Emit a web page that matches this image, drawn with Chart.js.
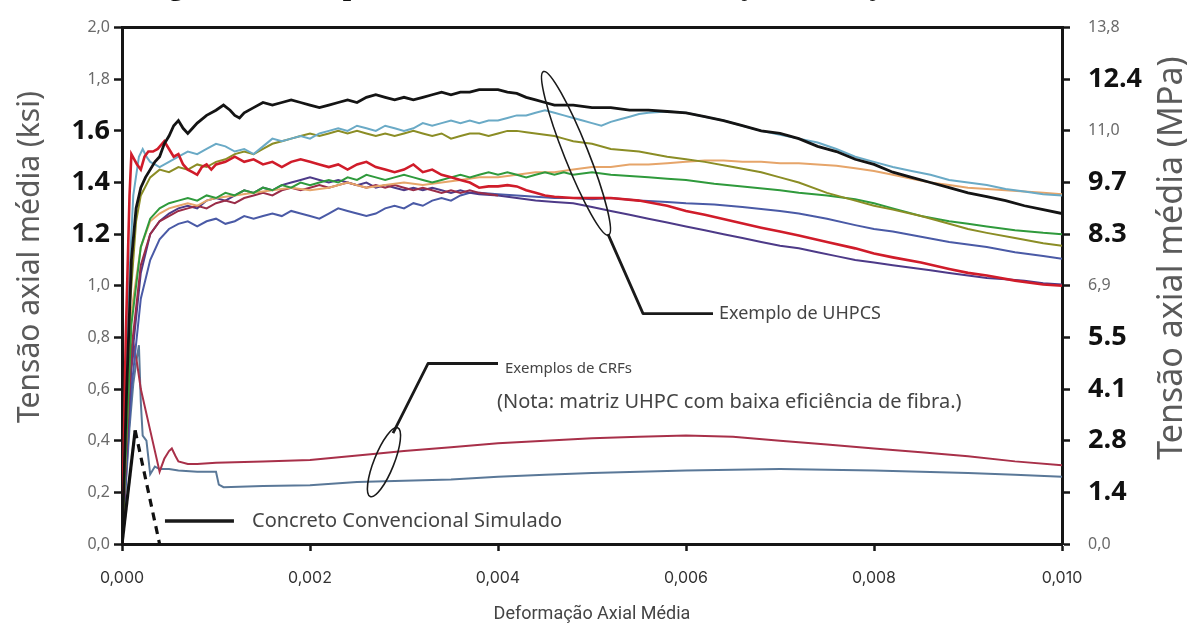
<!DOCTYPE html>
<html>
<head>
<meta charset="utf-8">
<script src="https://cdn.jsdelivr.net/npm/chart.js@4.4.1/dist/chart.umd.min.js"></script>
<style>
  html, body { margin: 0; padding: 0; background: #ffffff; }
  #wrap { width: 1187px; height: 626px; position: relative; }
  canvas { display: block; }
</style>
</head>
<body>
<div id="wrap"><canvas id="chart" width="1187" height="626"></canvas></div>
<script>
// ---- tick labels ----
const strainTickLabels = ['0,000', '0,002', '0,004', '0,006', '0,008', '0,010'];
const ksiTickLabels = ['0,0', '0,2', '0,4', '0,6', '0,8', '1,0', '1.2', '1.4', '1.6', '1,8', '2,0'];
const mpaTickLabels = ['0,0', '1.4', '2.8', '4.1', '5.5', '6,9', '8.3', '9.7', '11,0', '12.4', '13,8'];
// labels printed in bold (the others are light grey)
const ksiBold = ['1.2', '1.4', '1.6'];
const mpaBold = ['1.4', '2.8', '4.1', '5.5', '8.3', '9.7', '12.4'];

// ---- UHPC curves: [strain, stress (ksi)] ----
const uhpcBlack = [[0,0],[0.00005,0.6],[0.0001,1.1],[0.00015,1.30],[0.0002,1.38],[0.00025,1.42],[0.0003,1.45],[0.00035,1.48],[0.0004,1.50],[0.00045,1.55],[0.0005,1.58],[0.00055,1.62],[0.0006,1.64],[0.00065,1.61],[0.0007,1.59],[0.00075,1.61],[0.0008,1.63],[0.0009,1.66],[0.001,1.68],[0.00108,1.70],[0.00115,1.68],[0.0012,1.66],[0.00125,1.65],[0.0013,1.67],[0.0014,1.69],[0.0015,1.71],[0.0016,1.70],[0.0017,1.71],[0.0018,1.72],[0.0019,1.71],[0.002,1.70],[0.0021,1.69],[0.0022,1.70],[0.0023,1.71],[0.0024,1.72],[0.0025,1.71],[0.0026,1.73],[0.0027,1.74],[0.0028,1.73],[0.0029,1.72],[0.003,1.73],[0.0031,1.72],[0.0032,1.73],[0.0033,1.74],[0.0034,1.75],[0.0035,1.74],[0.0036,1.75],[0.0037,1.75],[0.0038,1.76],[0.0039,1.76],[0.004,1.76],[0.0041,1.75],[0.0042,1.745],[0.0043,1.73],[0.0044,1.72],[0.0045,1.71],[0.0046,1.70],[0.0048,1.70],[0.005,1.69],[0.0052,1.69],[0.0054,1.68],[0.0056,1.68],[0.0058,1.675],[0.006,1.67],[0.0062,1.655],[0.0064,1.64],[0.0066,1.62],[0.0068,1.60],[0.007,1.59],[0.0072,1.57],[0.0074,1.54],[0.0076,1.52],[0.0078,1.49],[0.008,1.47],[0.0082,1.44],[0.0084,1.42],[0.0086,1.40],[0.0088,1.38],[0.009,1.36],[0.0092,1.345],[0.0094,1.33],[0.0096,1.31],[0.0098,1.295],[0.01,1.28]];
const uhpcCyan = [[0,0],[0.00006,0.9],[0.00012,1.35],[0.00018,1.50],[0.00022,1.53],[0.00026,1.50],[0.0003,1.48],[0.00035,1.47],[0.0004,1.46],[0.0005,1.48],[0.0006,1.50],[0.0007,1.52],[0.0008,1.51],[0.0009,1.53],[0.001,1.55],[0.0011,1.54],[0.0012,1.52],[0.0013,1.53],[0.0014,1.51],[0.0015,1.54],[0.0016,1.57],[0.0017,1.56],[0.0018,1.57],[0.0019,1.58],[0.002,1.57],[0.0021,1.59],[0.0022,1.60],[0.0023,1.61],[0.0024,1.60],[0.0025,1.62],[0.0026,1.61],[0.0027,1.60],[0.0028,1.62],[0.0029,1.61],[0.003,1.60],[0.0031,1.61],[0.0032,1.63],[0.0033,1.62],[0.0034,1.63],[0.0035,1.64],[0.0036,1.63],[0.0037,1.64],[0.0038,1.63],[0.0039,1.64],[0.004,1.64],[0.0041,1.65],[0.0042,1.66],[0.0043,1.66],[0.0044,1.67],[0.0045,1.68],[0.0046,1.67],[0.0047,1.66],[0.0048,1.65],[0.0049,1.64],[0.005,1.63],[0.0051,1.62],[0.0052,1.635],[0.0053,1.645],[0.0054,1.655],[0.0055,1.665],[0.0056,1.67],[0.0058,1.675],[0.006,1.67],[0.0062,1.655],[0.0064,1.64],[0.0066,1.62],[0.0068,1.60],[0.007,1.585],[0.0072,1.57],[0.0074,1.555],[0.0076,1.53],[0.0078,1.50],[0.008,1.48],[0.0082,1.46],[0.0084,1.445],[0.0086,1.43],[0.0088,1.41],[0.009,1.40],[0.0092,1.39],[0.0094,1.375],[0.0096,1.365],[0.0098,1.355],[0.01,1.35]];
const uhpcOlive = [[0,0],[0.00008,0.9],[0.00015,1.25],[0.0002,1.35],[0.0003,1.42],[0.0004,1.45],[0.0005,1.44],[0.0006,1.46],[0.0007,1.45],[0.0008,1.47],[0.0009,1.46],[0.001,1.48],[0.0011,1.49],[0.0012,1.51],[0.0013,1.52],[0.0014,1.51],[0.0015,1.53],[0.0016,1.55],[0.0017,1.56],[0.0018,1.57],[0.0019,1.58],[0.002,1.59],[0.0021,1.58],[0.0022,1.59],[0.0023,1.60],[0.0024,1.59],[0.0025,1.60],[0.0026,1.59],[0.0027,1.58],[0.0028,1.59],[0.0029,1.58],[0.003,1.59],[0.0031,1.60],[0.0032,1.59],[0.0033,1.58],[0.0034,1.59],[0.0035,1.57],[0.0036,1.58],[0.0037,1.59],[0.0038,1.59],[0.0039,1.58],[0.004,1.59],[0.0041,1.60],[0.0042,1.60],[0.0043,1.595],[0.0044,1.59],[0.0045,1.585],[0.0046,1.58],[0.0047,1.57],[0.0048,1.56],[0.005,1.55],[0.0052,1.53],[0.0055,1.52],[0.0058,1.50],[0.006,1.49],[0.0062,1.48],[0.0065,1.46],[0.0068,1.44],[0.007,1.42],[0.0072,1.40],[0.0075,1.36],[0.0078,1.33],[0.008,1.31],[0.0082,1.295],[0.0085,1.27],[0.0088,1.24],[0.009,1.22],[0.0092,1.205],[0.0095,1.185],[0.0098,1.165],[0.01,1.155]];
const uhpcOrange = [[0,0],[0.0001,0.9],[0.0002,1.15],[0.0003,1.25],[0.0004,1.28],[0.0005,1.30],[0.0006,1.31],[0.0007,1.32],[0.0008,1.31],[0.0009,1.33],[0.001,1.34],[0.0012,1.35],[0.0014,1.36],[0.0016,1.37],[0.0018,1.38],[0.002,1.37],[0.0022,1.38],[0.0024,1.40],[0.0026,1.38],[0.0028,1.39],[0.003,1.40],[0.0032,1.39],[0.0034,1.40],[0.0036,1.41],[0.0038,1.42],[0.004,1.42],[0.0042,1.43],[0.0044,1.44],[0.0046,1.44],[0.0048,1.45],[0.005,1.46],[0.0052,1.46],[0.0054,1.47],[0.0056,1.47],[0.0058,1.475],[0.006,1.48],[0.0062,1.485],[0.0064,1.485],[0.0066,1.48],[0.0068,1.48],[0.007,1.475],[0.0072,1.475],[0.0074,1.47],[0.0076,1.465],[0.0078,1.455],[0.008,1.445],[0.0082,1.43],[0.0084,1.415],[0.0086,1.40],[0.0088,1.39],[0.009,1.38],[0.0092,1.375],[0.0094,1.37],[0.0096,1.365],[0.0098,1.36],[0.01,1.355]];
const uhpcGreen = [[0,0],[0.0001,0.85],[0.0002,1.15],[0.0003,1.26],[0.0004,1.30],[0.0005,1.32],[0.0006,1.33],[0.0007,1.34],[0.0008,1.33],[0.0009,1.35],[0.001,1.34],[0.0011,1.36],[0.0012,1.35],[0.0013,1.37],[0.0014,1.36],[0.0015,1.38],[0.0016,1.37],[0.0017,1.39],[0.0018,1.38],[0.0019,1.40],[0.002,1.39],[0.0021,1.40],[0.0022,1.41],[0.0023,1.40],[0.0024,1.42],[0.0025,1.41],[0.0026,1.43],[0.0027,1.42],[0.0028,1.41],[0.0029,1.42],[0.003,1.43],[0.0031,1.42],[0.0032,1.41],[0.0033,1.40],[0.0034,1.41],[0.0035,1.42],[0.0036,1.43],[0.0037,1.42],[0.0038,1.43],[0.0039,1.44],[0.004,1.43],[0.0041,1.44],[0.0042,1.43],[0.0043,1.42],[0.0044,1.43],[0.0045,1.44],[0.0046,1.43],[0.0047,1.44],[0.0048,1.43],[0.005,1.44],[0.0052,1.43],[0.0054,1.425],[0.0056,1.42],[0.0058,1.415],[0.006,1.41],[0.0063,1.395],[0.0066,1.385],[0.007,1.37],[0.0072,1.36],[0.0075,1.35],[0.0078,1.335],[0.008,1.32],[0.0082,1.30],[0.0085,1.27],[0.0088,1.25],[0.009,1.24],[0.0092,1.23],[0.0095,1.215],[0.0098,1.205],[0.01,1.20]];
const uhpcRed = [[0,0],[0.00004,0.8],[0.00008,1.35],[0.0001,1.51],[0.00013,1.49],[0.00016,1.47],[0.0002,1.45],[0.00024,1.50],[0.00028,1.52],[0.00033,1.52],[0.00038,1.53],[0.00045,1.56],[0.0005,1.53],[0.00055,1.50],[0.0006,1.51],[0.00065,1.47],[0.0007,1.45],[0.00075,1.44],[0.0008,1.43],[0.00085,1.46],[0.0009,1.47],[0.00095,1.45],[0.001,1.47],[0.0011,1.48],[0.0012,1.50],[0.0013,1.48],[0.0014,1.49],[0.0015,1.47],[0.0016,1.48],[0.0017,1.46],[0.0018,1.48],[0.0019,1.49],[0.002,1.48],[0.0021,1.47],[0.0022,1.46],[0.0023,1.47],[0.0024,1.45],[0.0025,1.47],[0.0026,1.48],[0.0027,1.46],[0.0028,1.45],[0.0029,1.44],[0.003,1.45],[0.0031,1.47],[0.0032,1.44],[0.0033,1.45],[0.0034,1.43],[0.0035,1.42],[0.0036,1.41],[0.0037,1.40],[0.0038,1.38],[0.0039,1.385],[0.004,1.385],[0.0041,1.39],[0.0042,1.385],[0.0043,1.37],[0.0044,1.36],[0.0045,1.35],[0.0046,1.345],[0.0048,1.34],[0.005,1.34],[0.0052,1.34],[0.0055,1.33],[0.0058,1.31],[0.006,1.29],[0.0062,1.275],[0.0065,1.25],[0.0068,1.225],[0.007,1.21],[0.0072,1.195],[0.0075,1.17],[0.0078,1.145],[0.008,1.125],[0.0082,1.11],[0.0085,1.09],[0.0088,1.065],[0.009,1.05],[0.0092,1.04],[0.0095,1.02],[0.0098,1.005],[0.01,1.00]];
const uhpcMaroon = [[0,0],[0.0001,0.75],[0.0002,1.08],[0.0003,1.20],[0.0004,1.25],[0.0005,1.27],[0.0006,1.29],[0.0007,1.30],[0.0008,1.31],[0.0009,1.30],[0.001,1.32],[0.0011,1.33],[0.0012,1.32],[0.0013,1.34],[0.0014,1.35],[0.0015,1.36],[0.0016,1.35],[0.0017,1.37],[0.0018,1.38],[0.0019,1.37],[0.002,1.38],[0.0021,1.39],[0.0022,1.38],[0.0023,1.39],[0.0024,1.40],[0.0025,1.39],[0.0026,1.38],[0.0027,1.39],[0.0028,1.38],[0.0029,1.39],[0.003,1.38],[0.0031,1.37],[0.0032,1.38],[0.0033,1.37],[0.0034,1.36],[0.0035,1.37],[0.0036,1.36],[0.0037,1.37],[0.0038,1.36],[0.004,1.35]];
const uhpcPurple = [[0,0],[0.0001,0.7],[0.0002,1.05],[0.0003,1.20],[0.0004,1.25],[0.0005,1.28],[0.0006,1.30],[0.0007,1.31],[0.0008,1.30],[0.0009,1.33],[0.001,1.34],[0.0011,1.33],[0.0012,1.35],[0.0013,1.37],[0.0014,1.36],[0.0015,1.38],[0.0016,1.37],[0.0017,1.39],[0.0018,1.40],[0.0019,1.41],[0.002,1.42],[0.0021,1.41],[0.0022,1.40],[0.0023,1.41],[0.0024,1.40],[0.0025,1.39],[0.0026,1.40],[0.0027,1.38],[0.0028,1.39],[0.0029,1.38],[0.003,1.37],[0.0031,1.38],[0.0032,1.37],[0.0033,1.38],[0.0034,1.37],[0.0035,1.36],[0.0036,1.37],[0.0037,1.36],[0.0038,1.355],[0.004,1.35],[0.0042,1.34],[0.0044,1.33],[0.0046,1.325],[0.0048,1.32],[0.005,1.305],[0.0052,1.29],[0.0054,1.275],[0.0056,1.26],[0.0058,1.245],[0.006,1.23],[0.0062,1.215],[0.0064,1.20],[0.0066,1.185],[0.0068,1.17],[0.007,1.155],[0.0072,1.145],[0.0074,1.13],[0.0076,1.115],[0.0078,1.10],[0.008,1.09],[0.0082,1.08],[0.0084,1.07],[0.0086,1.06],[0.0088,1.05],[0.009,1.04],[0.0092,1.03],[0.0094,1.025],[0.0096,1.02],[0.0098,1.01],[0.01,1.005]];
const uhpcBlue = [[0,0],[0.0001,0.6],[0.0002,0.95],[0.0003,1.10],[0.0004,1.18],[0.0005,1.22],[0.0006,1.24],[0.0007,1.25],[0.0008,1.23],[0.0009,1.25],[0.001,1.26],[0.0011,1.24],[0.0012,1.25],[0.0013,1.27],[0.0014,1.26],[0.0015,1.27],[0.0016,1.28],[0.0017,1.27],[0.0018,1.29],[0.0019,1.28],[0.002,1.27],[0.0021,1.26],[0.0022,1.28],[0.0023,1.30],[0.0024,1.29],[0.0025,1.28],[0.0026,1.27],[0.0027,1.28],[0.0028,1.30],[0.0029,1.31],[0.003,1.30],[0.0031,1.32],[0.0032,1.31],[0.0033,1.33],[0.0034,1.34],[0.0035,1.33],[0.0036,1.35],[0.0037,1.36],[0.0038,1.36],[0.004,1.355],[0.0042,1.35],[0.0044,1.345],[0.0046,1.34],[0.0048,1.34],[0.005,1.335],[0.0052,1.34],[0.0055,1.33],[0.0058,1.325],[0.006,1.32],[0.0063,1.315],[0.0066,1.305],[0.007,1.29],[0.0072,1.28],[0.0075,1.26],[0.0078,1.235],[0.008,1.22],[0.0082,1.21],[0.0085,1.19],[0.0088,1.17],[0.009,1.16],[0.0092,1.15],[0.0095,1.13],[0.0098,1.115],[0.01,1.105]];

// ---- fibre-reinforced concrete (CRF) curves ----
const crfRed = [[0,0],[0.00005,0.40],[0.0001,0.68],[0.00013,0.76],[0.00016,0.70],[0.0002,0.60],[0.0003,0.44],[0.0004,0.28],[0.00045,0.33],[0.0005,0.36],[0.00053,0.37],[0.00057,0.34],[0.0006,0.32],[0.0007,0.31],[0.0008,0.31],[0.001,0.315],[0.0015,0.32],[0.002,0.325],[0.0027,0.35],[0.003,0.36],[0.0035,0.375],[0.004,0.39],[0.0045,0.40],[0.005,0.41],[0.0055,0.415],[0.006,0.42],[0.0065,0.415],[0.007,0.40],[0.0075,0.385],[0.008,0.37],[0.0085,0.355],[0.009,0.34],[0.0095,0.32],[0.01,0.305]];
const crfBlue = [[0,0],[0.00008,0.45],[0.00012,0.62],[0.00015,0.70],[0.00018,0.77],[0.0002,0.55],[0.00022,0.42],[0.00026,0.40],[0.0003,0.27],[0.00035,0.30],[0.0004,0.29],[0.0005,0.29],[0.0006,0.285],[0.0008,0.28],[0.001,0.28],[0.00103,0.23],[0.00108,0.22],[0.0015,0.225],[0.002,0.228],[0.0025,0.24],[0.003,0.245],[0.0035,0.25],[0.004,0.26],[0.0045,0.268],[0.005,0.275],[0.0055,0.28],[0.006,0.285],[0.0065,0.288],[0.007,0.29],[0.0075,0.288],[0.008,0.285],[0.0085,0.28],[0.009,0.275],[0.0095,0.268],[0.01,0.26]];

// ---- simulated plain concrete ----
const plainRise = [[0,0],[0.00014,0.44]];
const plainSoftening = [[0.00014,0.44],[0.0004,0]];

// ---- callout anchors (strain, ksi) ----
const uhpcCallout = { ring: [0.00483, 1.513], leader: [[0.00517, 1.20], [0.005543, 0.892], [0.006287, 0.892]], text: [0.006351, 0.892] };
const crfCallout = { ring: [0.002787, 0.317], leader: [[0.002883, 0.429], [0.003255, 0.699], [0.0040, 0.699]], text: [0.004074, 0.678], note: [0.003989, 0.548] };
const plainKey = { line: [[0.000457, 0.089], [0.001191, 0.089]], text: [0.001383, 0.089] };

const line = (data, color, width, dash) => ({
  data, borderColor: color, borderWidth: width, borderDash: dash || [],
  pointRadius: 0, tension: 0, fill: false, xAxisID: 'x', yAxisID: 'y'
});

const datasets = [
  line(plainRise, '#111111', 3.2),
  line(plainSoftening, '#111111', 3.2, [8, 6]),
  line(uhpcBlack, '#141414', 2.8),
  line(uhpcRed, '#d01c2a', 2.6),
  line(uhpcCyan, '#6aaac6', 2),
  line(uhpcOlive, '#8b8d25', 2),
  line(uhpcGreen, '#2f9a3c', 2),
  line(uhpcOrange, '#e6a56a', 2),
  line(uhpcMaroon, '#9a2c48', 2),
  line(uhpcPurple, '#4d3a88', 2),
  line(uhpcBlue, '#4a5aa6', 2),
  line(crfRed, '#a83049', 2),
  line(crfBlue, '#5a7898', 2)
];

const AXIS = '#161616';
const sans = '"Noto Sans", "DejaVu Sans", sans-serif';

const decorations = {
  id: 'decorations',
  afterDraw(chart) {
    const ctx = chart.ctx;
    const sx = chart.scales.x, sy = chart.scales.y;
    const px = p => [sx.getPixelForValue(p[0]), sy.getPixelForValue(p[1])];
    ctx.save();

    // figure caption (only its descenders fall inside the page)
    ctx.fillStyle = '#111';
    ctx.font = 'bold 30px "Liberation Serif", serif';
    ctx.textBaseline = 'alphabetic';
    ctx.textAlign = 'left';
    ctx.fillText('Figura 2 – Comportamento de tensão-deformação na tração direta', 142, -5);

    // axis titles, both reading bottom-to-top
    ctx.fillStyle = '#5a5a5a';
    ctx.textAlign = 'center';
    ctx.textBaseline = 'middle';
    ctx.save();
    ctx.translate(30, 257);
    ctx.rotate(-Math.PI / 2);
    ctx.font = '30px ' + sans;
    ctx.fillText('Tensão axial média (ksi)', 0, 0);
    ctx.restore();
    ctx.save();
    ctx.translate(1172, 258);
    ctx.rotate(-Math.PI / 2);
    ctx.font = '34px ' + sans;
    ctx.fillText('Tensão axial média (MPa)', 0, 0);
    ctx.restore();

    // callout: UHPC examples
    ctx.strokeStyle = '#1a1a1a';
    ctx.lineJoin = 'round';
    let c = px(uhpcCallout.ring);
    ctx.lineWidth = 1.6;
    ctx.beginPath();
    ctx.ellipse(c[0], c[1], 12, 88, -0.379, 0, Math.PI * 2);
    ctx.stroke();
    ctx.lineWidth = 2.8;
    ctx.beginPath();
    uhpcCallout.leader.forEach((p, i) => { const q = px(p); i ? ctx.lineTo(q[0], q[1]) : ctx.moveTo(q[0], q[1]); });
    ctx.stroke();
    ctx.fillStyle = '#444';
    ctx.textAlign = 'left';
    ctx.font = '18px ' + sans;
    let t = px(uhpcCallout.text);
    ctx.fillText('Exemplo de UHPCS', t[0], t[1]);

    // callout: CRF examples
    c = px(crfCallout.ring);
    ctx.lineWidth = 1.6;
    ctx.beginPath();
    ctx.ellipse(c[0], c[1], 10, 37, 0.38, 0, Math.PI * 2);
    ctx.stroke();
    ctx.lineWidth = 2.8;
    ctx.beginPath();
    crfCallout.leader.forEach((p, i) => { const q = px(p); i ? ctx.lineTo(q[0], q[1]) : ctx.moveTo(q[0], q[1]); });
    ctx.stroke();
    ctx.font = '15px ' + sans;
    t = px(crfCallout.text);
    ctx.fillText('Exemplos de CRFs', t[0], t[1]);
    ctx.font = '20px ' + sans;
    t = px(crfCallout.note);
    ctx.fillText('(Nota: matriz UHPC com baixa eficiência de fibra.)', t[0], t[1]);

    // key for the simulated plain concrete
    const a = px(plainKey.line[0]), b = px(plainKey.line[1]);
    ctx.lineWidth = 3.5;
    ctx.beginPath();
    ctx.moveTo(a[0], a[1]);
    ctx.lineTo(b[0], b[1]);
    ctx.stroke();
    ctx.font = '20px ' + sans;
    t = px(plainKey.text);
    ctx.fillText('Concreto Convencional Simulado', t[0], t[1]);

    ctx.restore();
  }
};

const boldFont = { family: '"Open Sans", "Noto Sans", sans-serif', size: 27, weight: 'bold' };
const lightFont = { family: sans, size: 16, weight: 'normal' };

new Chart(document.getElementById('chart'), {
  type: 'line',
  data: { datasets },
  plugins: [decorations],
  options: {
    responsive: false,
    animation: false,
    devicePixelRatio: 1,
    layout: { padding: { top: 26, left: 0, right: 0, bottom: 0 } },
    plugins: { legend: { display: false }, tooltip: { enabled: false } },
    scales: {
      x: {
        type: 'linear', position: 'bottom', min: 0, max: 0.01,
        afterFit: s => { s.height = 82; },
        ticks: {
          stepSize: 0.002, padding: 18, color: '#333',
          font: { family: '"Inter", ' + sans, size: 16 },
          callback: (v, i) => strainTickLabels[i]
        },
        grid: { drawOnChartArea: false, tickLength: 7, tickWidth: 2.5, tickColor: AXIS },
        border: { display: true, color: AXIS, width: 3 },
        title: { display: true, text: 'Deformação Axial Média', color: '#444',
                 font: { family: 'Roboto, ' + sans, size: 18 }, padding: { top: 0, bottom: 1 } }
      },
      xTop: {
        type: 'linear', position: 'top', min: 0, max: 0.01,
        afterFit: s => { s.height = 0; },
        ticks: { display: false },
        grid: { display: false },
        border: { display: true, color: AXIS, width: 3 }
      },
      y: {
        type: 'linear', position: 'left', min: 0, max: 2,
        afterFit: s => { s.width = 122; },
        ticks: {
          stepSize: 0.2, padding: 4,
          callback: (v, i) => ksiTickLabels[i],
          font: c => ksiBold.includes(ksiTickLabels[c.index]) ? boldFont : lightFont,
          color: c => ksiBold.includes(ksiTickLabels[c.index]) ? '#111' : '#6a6a6a'
        },
        grid: { drawOnChartArea: false, tickLength: 8, tickWidth: 2.5, tickColor: AXIS },
        border: { display: true, color: AXIS, width: 3 }
      },
      yR: {
        type: 'linear', position: 'right', min: 0, max: 2,
        afterFit: s => { s.width = 125; },
        ticks: {
          stepSize: 0.2, padding: 18,
          callback: (v, i) => mpaTickLabels[i],
          font: c => mpaBold.includes(mpaTickLabels[c.index]) ? boldFont : lightFont,
          color: c => mpaBold.includes(mpaTickLabels[c.index]) ? '#111' : '#6a6a6a'
        },
        grid: { drawOnChartArea: false, tickLength: 8, tickWidth: 2.5, tickColor: AXIS },
        border: { display: true, color: AXIS, width: 3 }
      }
    }
  }
});
</script>
</body>
</html>
